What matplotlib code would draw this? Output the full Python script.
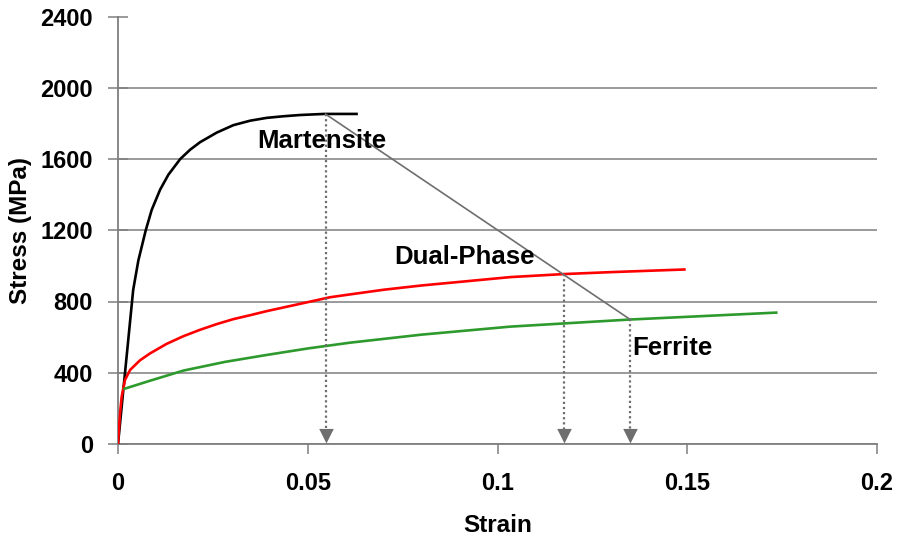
import matplotlib
matplotlib.use("Agg")
import matplotlib.pyplot as plt
from matplotlib.path import Path
from matplotlib.markers import MarkerStyle

# ---- data ----
mart_strain = [0.0, 0.0014, 0.0040, 0.00536, 0.0073, 0.00889, 0.0111, 0.01328,
               0.0164, 0.0190, 0.0216, 0.0260, 0.0304, 0.0348, 0.0392, 0.0436,
               0.0480, 0.0543, 0.0632]
mart_stress = [0, 303, 865, 1030, 1199, 1315, 1428, 1512, 1600, 1652, 1694,
               1748, 1790, 1815, 1831, 1840, 1847, 1853, 1853]

dp_strain = [0.0, 0.00053, 0.00097, 0.00185, 0.0032, 0.0058, 0.0084, 0.0128,
             0.0172, 0.0216, 0.0260, 0.0304, 0.0348, 0.0392, 0.0480, 0.0559,
             0.0612, 0.0700, 0.0800, 0.1034, 0.1175, 0.1300, 0.1496]
dp_stress = [0, 172, 266, 360, 416, 470, 508, 562, 605, 641, 673, 701, 723,
             746, 787, 824, 840, 866, 890, 937, 954, 965, 980]

fer_strain = [0.0014, 0.0084, 0.0172, 0.0282, 0.0392, 0.0502, 0.0612, 0.0800,
              0.1034, 0.1351, 0.1738]
fer_stress = [308, 355, 412, 461, 500, 537, 569, 614, 659, 699, 738]

arrow_strain = [0.0547, 0.1175, 0.1349]
arrow_stress = [1852, 952, 700]

labels = ["Martensite", "Dual-Phase", "Ferrite"]
label_strain = [0.0538, 0.0912, 0.1462]
label_stress = [1703, 1051, 540]

xticks = [0, 0.05, 0.1, 0.15, 0.2]
xticklabels = ["0", "0.05", "0.1", "0.15", "0.2"]
yticks = [0, 400, 800, 1200, 1600, 2000, 2400]

# ---- figure ----
plt.rcParams['font.family'] = ['Liberation Sans', 'DejaVu Sans']
plt.rcParams['font.weight'] = 'bold'

fig = plt.figure(figsize=(8.97, 5.42), dpi=100)
ax = fig.add_axes([118 / 897, 98 / 542, 759 / 897, 427.5 / 542])

gray = '#7f7f7f'
ax.set_xlim(0, 0.2)
ax.set_ylim(0, 2400)
ax.set_xticks(xticks)
ax.set_xticklabels(xticklabels)
ax.set_yticks(yticks)
ax.yaxis.grid(True, color=gray, lw=1.1)
ax.set_axisbelow(True)
ax.yaxis.get_gridlines()[-1].set_visible(False)
for s in ['top', 'right']:
    ax.spines[s].set_visible(False)
for s in ['left', 'bottom']:
    ax.spines[s].set_color(gray)
    ax.spines[s].set_linewidth(1.3)
ax.tick_params(axis='y', direction='inout', length=14, width=1.1, color=gray,
               labelsize=17, pad=11)
ax.tick_params(axis='x', direction='out', length=7, width=1.1, color=gray,
               labelsize=17, pad=13)
for t in ax.get_xticklabels() + ax.get_yticklabels():
    t.set_fontweight('bold')

ax.set_xlabel('Strain', fontsize=17.5, fontweight='bold', labelpad=14)
ax.set_ylabel('Stress (MPa)', fontsize=17.5, fontweight='bold', labelpad=6)

# curves
kw = dict(lw=1.9, zorder=3, solid_joinstyle='round', solid_capstyle='butt')
ax.plot(mart_strain, mart_stress, color='black', **kw)
ax.plot(dp_strain, dp_stress, color='#ff0000', **kw)
ax.plot(fer_strain, fer_stress, color='#2e9a2e', **kw)

# diagonal connecting line
ax.plot([arrow_strain[0], arrow_strain[-1]], [arrow_stress[0], arrow_stress[-1]],
        color='#6e6e6e', lw=1.2, zorder=4)

# dotted arrows
tri = MarkerStyle(Path([(-0.5, 1), (0.5, 1), (0, 0), (-0.5, 1)],
                       [Path.MOVETO, Path.LINETO, Path.LINETO, Path.CLOSEPOLY]))
for xs, ys in zip(arrow_strain, arrow_stress):
    ax.plot([xs, xs], [ys, 60], color='#6e6e6e', lw=1.6,
            linestyle=(0, (1, 1.3)), zorder=4)
    ax.plot([xs], [8], marker=tri, markersize=21, color='#6e6e6e',
            markeredgewidth=0, zorder=5, clip_on=False)

for lab, xs, ys in zip(labels, label_strain, label_stress):
    ax.text(xs, ys, lab, fontsize=18.5, fontweight='bold', ha='center',
            va='center', zorder=6)

fig.savefig('out.png', dpi=100)
